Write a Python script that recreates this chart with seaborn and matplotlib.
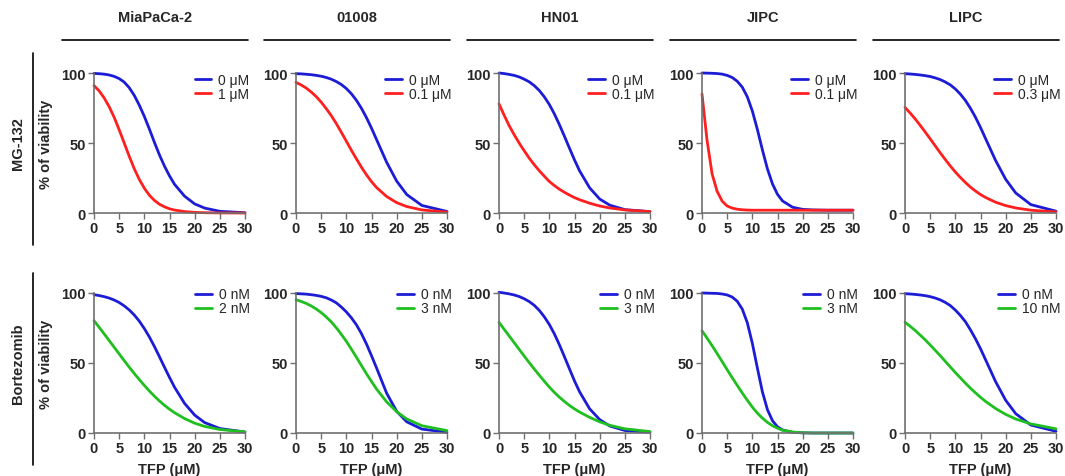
import matplotlib
matplotlib.use("Agg")
import matplotlib.pyplot as plt
import seaborn as sns

# TFP concentrations (uM) at which the fitted curves were read
tfp = [0, 1, 2, 3, 4, 5, 6, 7, 8, 9, 10, 11, 12, 13, 14, 15, 16, 18, 20, 22, 25, 30]

cell_lines = ["MiaPaCa-2", "01008", "HN01", "JIPC", "LIPC"]
mg132_doses = ["1 μM", "0.1 μM", "0.1 μM", "0.1 μM", "0.3 μM"]
btz_doses = ["2 nM", "3 nM", "3 nM", "3 nM", "10 nM"]

# MG-132 row: control (0 uM) and treated
mg_miapaca_0 = [99.7, 99.5, 99.2, 98.6, 97.6, 96, 93.5, 89.5, 84, 77, 69, 60, 50.5, 41.5, 33.5, 26.5, 20.5, 12, 6.5, 3.5, 1.2, 0.2]
mg_miapaca_1 = [91, 87.3, 82.3, 76, 68.4, 59.5, 50, 40.5, 31.6, 24, 17.7, 12.7, 9, 6.3, 4.4, 3, 2.1, 1, 0.45, 0.2, 0.07, 0]
mg_01008_0 = [99.5, 99.4, 99.1, 98.8, 98.3, 97.7, 96.8, 95.6, 93.9, 91.8, 88.9, 85.2, 80.5, 74.8, 68.1, 60.6, 52.5, 36.3, 22.8, 13.2, 5.4, 1.1]
mg_01008_1 = [93.3, 91.5, 89.3, 86.5, 83.2, 79.2, 74.6, 69.6, 63.9, 57.7, 51.3, 44.8, 38.7, 32.7, 27.3, 22.4, 18.2, 11.8, 7.4, 4.6, 2.2, 0.6]
mg_hn01_0 = [100, 99.6, 99, 98.3, 97.2, 95.6, 93.7, 91, 87.5, 83, 77.5, 70.8, 63.1, 54.8, 46.3, 37.9, 30.2, 18, 10, 5.6, 2.4, 1]
mg_hn01_1 = [78, 70, 62.5, 56, 50, 44.5, 39.2, 34.5, 30.2, 26.3, 22.5, 19.6, 17, 14.8, 12.8, 11, 9.5, 7, 5, 3.6, 2.2, 1]
mg_jipc_0 = [100, 99.9, 99.8, 99.6, 99.2, 98.3, 96.8, 94.1, 89.9, 83, 72.9, 59.7, 45.1, 31.5, 20.8, 13.3, 8.6, 4.1, 2.6, 2.2, 2, 2]
mg_jipc_1 = [85, 52, 28, 15.5, 8.5, 5, 3.5, 2.7, 2.3, 2.1, 2, 2, 2, 2, 2, 2, 2, 2, 2, 2, 2, 2]
mg_lipc_0 = [99.5, 99.3, 99, 98.6, 98.1, 97.5, 96.5, 95.3, 93.6, 91.5, 88.6, 84.9, 80.4, 74.8, 68.4, 61.1, 53.2, 37.5, 24.1, 14.3, 6, 1.3]
mg_lipc_1 = [75.4, 71.5, 67.3, 62.7, 57.9, 53, 48, 43, 38.2, 33.6, 29.3, 25.4, 21.8, 18.5, 15.7, 13.2, 11.1, 7.7, 5.3, 3.6, 2, 0.75]

# Bortezomib row: control (0 nM) and treated
btz_miapaca_0 = [98.8, 98.2, 97.4, 96.4, 95, 93.2, 90.8, 87.9, 84.3, 79.9, 74.6, 68.6, 61.8, 54.5, 47, 39.7, 32.7, 21.1, 12.8, 7.4, 3.2, 0.7]
btz_miapaca_1 = [80.2, 75.6, 70.9, 66.1, 61.3, 56.5, 51.7, 47, 42.5, 38.2, 34, 30, 26.3, 22.9, 19.8, 17, 14.5, 10.3, 7, 4.7, 2.5, 0.8]
btz_01008_0 = [99.6, 99.4, 99.2, 98.8, 98.3, 97.6, 96.6, 95, 93, 90, 86.5, 82.3, 77.3, 71, 63.6, 55.2, 46.5, 28.5, 15.5, 8, 2.8, 0.5]
btz_01008_1 = [95.2, 94, 92.6, 90.8, 88.6, 86, 82.9, 79.4, 75.2, 70.5, 65.5, 59.9, 54.1, 48.2, 42.3, 36.8, 31.4, 22.3, 15.2, 10, 5.2, 1.7]
btz_hn01_0 = [100.5, 100, 99.4, 98.6, 97.5, 95.9, 93.9, 91.2, 87.6, 83, 77.5, 70.8, 63, 54.5, 45.8, 37.2, 29.5, 17.3, 9.6, 5, 1.8, 0.5]
btz_hn01_1 = [79, 74.2, 69.4, 64.6, 59.8, 55, 50.3, 45.7, 41.3, 37, 32.8, 29, 25.6, 22.5, 19.7, 17.2, 15, 11.2, 8, 5.5, 3, 1]
btz_jipc_0 = [100, 99.9, 99.8, 99.7, 99.3, 98.6, 97.1, 94.1, 88.5, 78.8, 64.1, 46.4, 29.4, 16.7, 8.8, 4.4, 2.2, 0.5, 0.1, 0, 0, 0]
btz_jipc_1 = [73, 67.8, 62.4, 56.8, 51, 45.2, 39.5, 34, 28.6, 23.4, 18.5, 14.2, 10.6, 7.6, 5.2, 3.4, 2, 0.7, 0.2, 0, 0, 0]
btz_lipc_0 = [99.5, 99.3, 99, 98.6, 98.1, 97.4, 96.4, 95.1, 93.3, 91, 87.8, 84, 79.5, 73.7, 67.3, 60.2, 52.4, 36.7, 23.4, 13.8, 5.7, 1.2]
btz_lipc_1 = [79.1, 76.3, 73.3, 70, 66.6, 62.9, 59.1, 55.2, 51.2, 47.2, 43.2, 39.4, 35.6, 32, 28.7, 25.5, 22.6, 17.5, 13.3, 10, 6.5, 3]

mg_ctrl = [mg_miapaca_0, mg_01008_0, mg_hn01_0, mg_jipc_0, mg_lipc_0]
mg_trt = [mg_miapaca_1, mg_01008_1, mg_hn01_1, mg_jipc_1, mg_lipc_1]
btz_ctrl = [btz_miapaca_0, btz_01008_0, btz_hn01_0, btz_jipc_0, btz_lipc_0]
btz_trt = [btz_miapaca_1, btz_01008_1, btz_hn01_1, btz_jipc_1, btz_lipc_1]

sns.set_style("ticks")
plt.rcParams["font.family"] = ["Liberation Sans", "DejaVu Sans"]
plt.rcParams["font.weight"] = "bold"

BLUE = "#1c1cd6"
RED = "#ff1f1f"
GREEN = "#1fbf1f"
AXIS = "#707070"

W, H = 1065, 477
fig = plt.figure(figsize=(W / 100, H / 100), dpi=100)

lefts = [94, 296, 499, 702, 905]
pw, ph = 151, 140
rows = [
    dict(top=74, ctrl=mg_ctrl, trt=mg_trt, c0="0 μM", doses=mg132_doses, col=RED, name="MG-132", leg_y=1.0),
    dict(top=294, ctrl=btz_ctrl, trt=btz_trt, c0="0 nM", doses=btz_doses, col=GREEN, name="Bortezomib", leg_y=1.04),
]

for r, row in enumerate(rows):
    for i in range(5):
        ax = fig.add_axes([lefts[i] / W, 1 - (row["top"] + ph) / H, pw / W, ph / H])
        sns.lineplot(x=tfp, y=row["ctrl"][i], color=BLUE, linewidth=2, label=row["c0"], ax=ax)
        sns.lineplot(x=tfp, y=row["trt"][i], color=row["col"], linewidth=2, label=row["doses"][i], ax=ax)
        for ln in ax.lines:
            ln.set_clip_on(False)
        ax.set_xlim(0, 30)
        ax.set_ylim(0, 100)
        ax.set_xticks(range(0, 31, 5))
        ax.set_yticks([0, 50, 100])
        sns.despine(ax=ax)
        for s in ["left", "bottom"]:
            ax.spines[s].set_color(AXIS)
            ax.spines[s].set_linewidth(1.2)
        ax.tick_params(labelsize=10.5, length=4, width=1, color=AXIS, pad=2)
        ax.legend(loc="upper right", bbox_to_anchor=(1.03, row["leg_y"]), frameon=False,
                  borderpad=0, borderaxespad=0, labelspacing=0, handlelength=1.2,
                  handletextpad=0.5, prop={"weight": "normal", "size": 10})
        if i == 0:
            ax.set_ylabel("% of viability", fontsize=10.5, fontweight="bold", labelpad=6)
        else:
            ax.set_ylabel("")
        if r == 1:
            ax.set_xlabel("TFP (μM)", fontsize=10.5, fontweight="bold", labelpad=5)
        if r == 0:
            # column header with rule underneath
            x0, x1 = -32 / pw, 1 + 3 / pw
            ax.plot([x0, x1], [1 + 33 / ph, 1 + 33 / ph], color="black", lw=1.2,
                    transform=ax.transAxes, clip_on=False)
            ax.text((x0 + x1) / 2, 1 + 56 / ph, cell_lines[i], transform=ax.transAxes,
                    ha="center", va="center", fontsize=10.5, fontweight="bold")

    # row label with vertical rule
    yc = 1 - (row["top"] + ph / 2) / H
    fig.text(18 / W, yc, row["name"], rotation=90, ha="center", va="center",
             fontsize=10.5, fontweight="bold")
    y_lo = 1 - (row["top"] + ph + 32) / H
    y_hi = 1 - (row["top"] - 20) / H
    fig.add_artist(plt.Line2D([33 / W, 33 / W], [y_lo, y_hi], color="black", lw=1.2))

fig.savefig("out.png", dpi=100)
